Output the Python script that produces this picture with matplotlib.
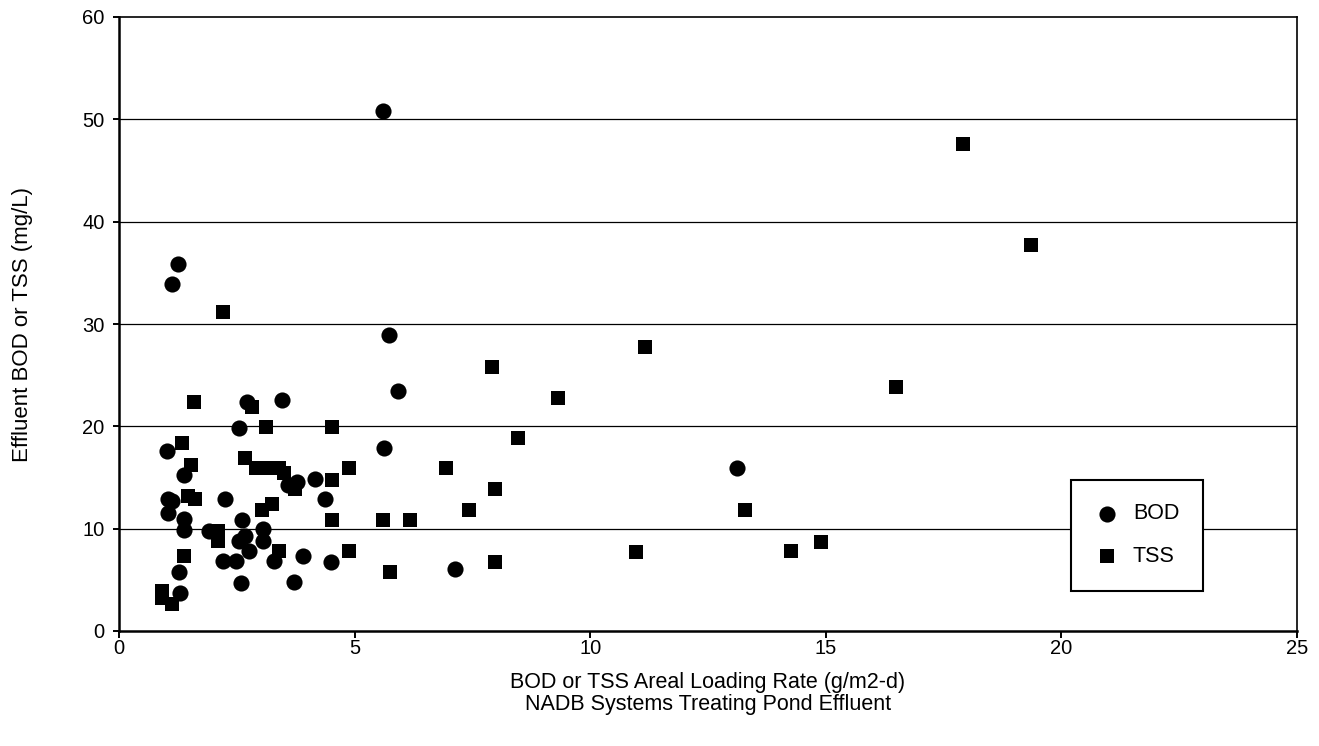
import matplotlib
matplotlib.use('Agg')
import matplotlib.pyplot as plt

plt.rcParams['font.family'] = ['Liberation Sans', 'DejaVu Sans']

# BOD points (loading rate g/m2-d, effluent mg/L)
bod_x = [1.26, 1.13, 5.60, 5.74, 5.93, 2.71, 3.45, 2.55, 5.63, 1.01, 13.11, 1.37,
         3.59, 3.77, 4.17, 1.03, 1.12, 2.24, 4.37, 1.05, 1.39, 1.39, 1.90, 2.60,
         3.06, 2.67, 2.55, 3.06, 2.76, 2.21, 2.48, 3.28, 3.91, 4.50, 7.13, 1.28,
         2.59, 3.71, 1.29]
bod_y = [35.9, 33.9, 50.8, 28.9, 23.5, 22.4, 22.6, 19.8, 17.9, 17.6, 15.9, 15.2,
         14.3, 14.6, 14.9, 12.9, 12.7, 12.9, 12.9, 11.5, 10.9, 9.9, 9.8, 10.8,
         10.0, 9.3, 8.8, 8.8, 7.8, 6.8, 6.8, 6.8, 7.3, 6.7, 6.1, 5.8,
         4.7, 4.8, 3.7]

# TSS points
tss_x = [2.21, 17.92, 19.35, 11.16, 7.92, 16.50, 9.31, 1.60, 2.82, 3.11, 4.53, 8.47,
         1.33, 2.67, 1.53, 2.90, 3.15, 3.40, 3.50, 4.88, 6.93, 4.51, 3.74, 7.98,
         1.47, 1.61, 3.24, 3.03, 7.43, 13.29, 4.51, 5.61, 6.18, 2.11, 2.11, 1.37,
         3.40, 4.89, 10.97, 14.26, 14.90, 7.98, 5.75, 0.92, 0.92, 1.12]
tss_y = [31.2, 47.6, 37.7, 27.8, 25.8, 23.8, 22.8, 22.4, 21.9, 19.9, 19.9, 18.9,
         18.4, 16.9, 16.2, 15.9, 15.9, 15.9, 15.4, 15.9, 15.9, 14.8, 13.9, 13.9,
         13.2, 12.9, 12.4, 11.8, 11.8, 11.8, 10.8, 10.8, 10.8, 9.8, 8.8, 7.3,
         7.8, 7.8, 7.7, 7.8, 8.7, 6.7, 5.8, 3.9, 3.2, 2.6]

x_ticks = [0, 5, 10, 15, 20, 25]
y_ticks = [0, 10, 20, 30, 40, 50, 60]

fig = plt.figure(figsize=(13.19, 7.46), dpi=100)
ax = fig.add_axes([119 / 1319, 1 - 631 / 746, 1178 / 1319, 614 / 746])

for y in y_ticks[1:-1]:
    ax.axhline(y, color='black', linewidth=0.9, zorder=1)

ax.scatter(bod_x, bod_y, marker='o', s=135, color='black', linewidths=0,
           label='BOD', zorder=3)
ax.scatter(tss_x, tss_y, marker='s', s=110, color='black', linewidths=0,
           label='TSS', zorder=3)

ax.set_xlim(0, 25)
ax.set_ylim(0, 60)
ax.set_xticks(x_ticks)
ax.set_yticks(y_ticks)
ax.tick_params(axis='x', direction='out', length=5, width=1.4, pad=1,
               labelsize=14.5)
ax.tick_params(axis='y', direction='out', length=4.5, width=1.4, pad=6,
               labelsize=14.5)

for side in ['left', 'bottom']:
    ax.spines[side].set_linewidth(1.8)
for side in ['top', 'right']:
    ax.spines[side].set_linewidth(1.2)

ax.set_ylabel('Effluent BOD or TSS (mg/L)', fontsize=16, labelpad=35)
ax.set_xlabel('BOD or TSS Areal Loading Rate (g/m2-d)\nNADB Systems Treating Pond Effluent',
              fontsize=15.5, labelpad=10, linespacing=1.05)

leg = ax.legend(loc='center', bbox_to_anchor=(0.864, 0.156), fontsize=15.5,
                frameon=True, fancybox=False, edgecolor='black',
                borderpad=1.1, labelspacing=1.0, handletextpad=0.6,
                handlelength=1.2, borderaxespad=0)
leg.get_frame().set_linewidth(1.5)
leg.get_frame().set_alpha(1)

fig.savefig('out.png', dpi=100)
